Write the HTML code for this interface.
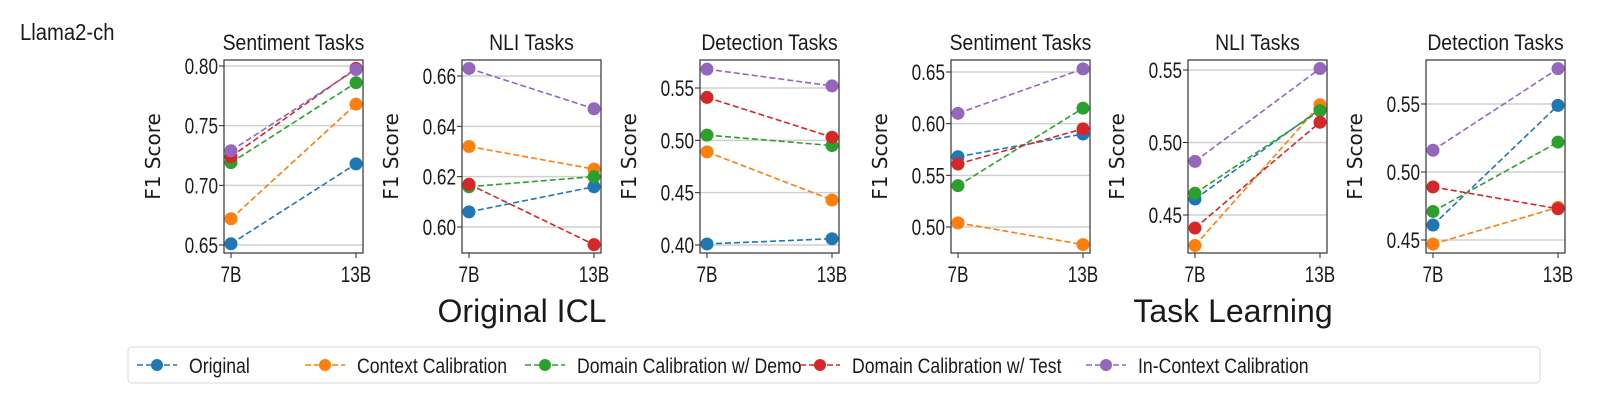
<!DOCTYPE html>
<html><head><meta charset="utf-8"><style>
html,body{margin:0;padding:0;background:#fff;}
svg text{font-family:"Liberation Sans",sans-serif;fill:#1a1a1a;}
</style></head><body>
<svg id="c" width="1611" height="405" xmlns="http://www.w3.org/2000/svg">
<text id="ml" x="20" y="40" font-size="23">Llama2-ch</text>
<text id="oi" x="522" y="322" font-size="32" text-anchor="middle">Original ICL</text>
<text id="tl" x="1233" y="322" font-size="32" text-anchor="middle">Task Learning</text>
</svg>
<script>
const seriesNames=["Original","Context Calibration","Domain Calibration w/ Demo","Domain Calibration w/ Test","In-Context Calibration"];
const colors=["#1f77b4","#ff7f0e","#2ca02c","#d62728","#9467bd"];
const categories=["7B","13B"];
const panelTitles=["Sentiment Tasks","NLI Tasks","Detection Tasks","Sentiment Tasks","NLI Tasks","Detection Tasks"];
const panelTicks=[[0.65,0.70,0.75,0.80],[0.60,0.62,0.64,0.66],[0.40,0.45,0.50,0.55],[0.50,0.55,0.60,0.65],[0.45,0.50,0.55],[0.45,0.50,0.55]];
const p1=[[0.651,0.718],[0.672,0.768],[0.719,0.786],[0.724,0.798],[0.729,0.797]];
const p2=[[0.606,0.616],[0.632,0.623],[0.616,0.620],[0.617,0.593],[0.663,0.647]];
const p3=[[0.401,0.406],[0.489,0.443],[0.505,0.495],[0.541,0.503],[0.568,0.552]];
const p4=[[0.568,0.590],[0.504,0.483],[0.540,0.615],[0.561,0.595],[0.610,0.653]];
const p5=[[0.461,0.523],[0.429,0.526],[0.465,0.522],[0.441,0.514],[0.487,0.551]];
const p6=[[0.461,0.549],[0.447,0.474],[0.471,0.522],[0.489,0.473],[0.516,0.576]];
const panelData=[p1,p2,p3,p4,p5,p6];
const L=[224,462,700,951,1188,1426], PW=139, TOP=60, BOT=253;
const anc=[[0.65,245,0.80,66],[0.60,227,0.66,76],[0.40,245,0.55,88],[0.50,227,0.65,72],[0.45,215,0.55,70],[0.45,240,0.55,104]];
const NS="http://www.w3.org/2000/svg";
const svg=document.getElementById('c');
function mk(t,a,p){const e=document.createElementNS(NS,t);for(const k in a)e.setAttribute(k,a[k]);(p||svg).appendChild(e);return e;}
function cond(t,f){const w=t.getComputedTextLength();if(w>0){t.setAttribute('textLength',w*f);t.setAttribute('lengthAdjust','spacingAndGlyphs');}}
cond(document.getElementById('ml'),0.88);
panelData.forEach((data,pi)=>{
  const g=mk('g',{});
  
  
  const a=anc[pi];
  const y=v=>a[1]+(v-a[0])*(a[3]-a[1])/(a[2]-a[0]);
  const x=i=>L[pi]+7+i*(PW-14);
  panelTicks[pi].forEach(t=>{
    const gl=mk('line',{x1:L[pi],x2:L[pi]+PW,y1:y(t),y2:y(t),stroke:'#d0d0d0','stroke-width':1.5},g);
    
    
    mk('line',{x1:L[pi]-5,x2:L[pi],y1:y(t),y2:y(t),stroke:'#222'},g);
    const tl=mk('text',{x:L[pi]-6,y:y(t)+8,'font-size':22,'text-anchor':'end'},g);
    tl.textContent=t.toFixed(2);
    
    
    cond(tl,0.78);
  });
  categories.forEach((c,i)=>{
    mk('line',{x1:x(i),x2:x(i),y1:BOT,y2:BOT+5,stroke:'#222'},g);
    const tl=mk('text',{x:x(i),y:BOT+29,'font-size':22,'text-anchor':'middle'},g);
    tl.textContent=c;
    
    
    cond(tl,0.78);
  });
  const tt=mk('text',{x:L[pi]+PW/2,y:TOP-10,'font-size':22,'text-anchor':'middle'},g);
  tt.textContent=panelTitles[pi];
  
  
  cond(tt,0.88);
  const yl=mk('text',{x:0,y:0,'font-size':20,'text-anchor':'middle',transform:`translate(${L[pi]-64},${(TOP+BOT)/2}) rotate(-90)`},g);
  yl.style.fontFamily='"DejaVu Sans",sans-serif';
  yl.textContent='F1 Score';
  
  
  data.forEach((s,si)=>{
    const ln=mk('line',{x1:x(0),y1:y(s[0]),x2:x(1),y2:y(s[1]),stroke:colors[si],'stroke-width':1.6,'stroke-dasharray':'6,3'},g);
    
    
    s.forEach((v,i)=>{
      const c=mk('circle',{cx:x(i),cy:y(v),r:6.5,fill:colors[si]},g);
      
      
    });
  });
  const fr=mk('rect',{x:L[pi],y:TOP,width:PW,height:BOT-TOP,fill:'none',stroke:'#333','stroke-width':1.2},g);
  
  
});
const lg=mk('g',{});


mk('rect',{x:128,y:347,width:1412,height:36,rx:4,fill:'#fff',stroke:'#d8d8d8'},lg);
const lx=[137,305,525,800,1086];
seriesNames.forEach((n,i)=>{
  const e=mk('g',{},lg);
  
  
  mk('line',{x1:lx[i],x2:lx[i]+40,y1:365,y2:365,stroke:colors[i],'stroke-width':1.6,'stroke-dasharray':'6,3'},e);
  mk('circle',{cx:lx[i]+20,cy:365,r:6,fill:colors[i]},e);
  const t=mk('text',{x:lx[i]+52,y:373,'font-size':21},e);
  t.textContent=n;
  cond(t,0.84);
});
</script>
</body></html>
